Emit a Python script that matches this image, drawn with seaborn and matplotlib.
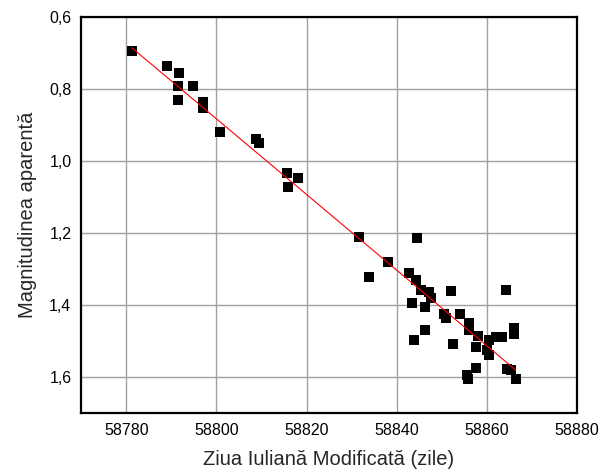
import numpy as np
import pandas as pd
import matplotlib
matplotlib.use("Agg")
import matplotlib.pyplot as plt
import seaborn as sns
from matplotlib.ticker import MultipleLocator, FuncFormatter

# data
mjd = [58781.2, 58789.1, 58791.7, 58791.4, 58794.8, 58791.4, 58797.1, 58797.1,
       58800.8, 58808.9, 58809.4, 58815.6, 58818.2, 58816.0,
       58831.6, 58844.5, 58838.0, 58833.9,
       58842.8, 58844.3, 58845.4, 58847.2, 58847.6, 58852.0, 58864.2,
       58843.5, 58846.2, 58850.4, 58850.9, 58854.1, 58856.1, 58856.1,
       58846.2, 58858.1, 58866.0, 58866.0, 58843.9, 58852.6, 58857.5,
       58860.5, 58862.0, 58863.4, 58860.1, 58860.5, 58857.7, 58855.7,
       58855.8, 58864.5, 58865.3, 58866.4]
mag = [0.696, 0.736, 0.755, 0.791, 0.791, 0.832, 0.835, 0.852,
       0.919, 0.940, 0.949, 1.032, 1.048, 1.071,
       1.212, 1.215, 1.280, 1.321,
       1.312, 1.331, 1.358, 1.363, 1.380, 1.360, 1.357,
       1.395, 1.405, 1.426, 1.437, 1.425, 1.451, 1.469,
       1.469, 1.485, 1.465, 1.479, 1.497, 1.508, 1.516,
       1.497, 1.490, 1.490, 1.525, 1.539, 1.576, 1.594,
       1.606, 1.578, 1.581, 1.604]

df = pd.DataFrame({"mjd": mjd, "mag": mag})

sns.set_style("white")
plt.rcParams["font.family"] = ["Liberation Sans", "DejaVu Sans"]

fig = plt.figure(figsize=(6.01, 4.70), dpi=100)
ax = fig.add_axes([0.135, 0.121, 0.825, 0.843])

ax.grid(True, which="major", color="#a0a0a0", linewidth=1.0)
ax.set_axisbelow(True)

sns.regplot(data=df, x="mjd", y="mag", ax=ax, ci=None, marker="s",
            scatter_kws={"s": 48, "color": "black", "linewidths": 0, "alpha": 1},
            line_kws={"color": "red", "linewidth": 0.8})

ax.set_xlim(58770, 58880)
ax.set_ylim(1.7, 0.6)
ax.xaxis.set_major_locator(MultipleLocator(20))
ax.xaxis.set_minor_locator(MultipleLocator(10))
ax.yaxis.set_major_locator(MultipleLocator(0.2))
ax.yaxis.set_minor_locator(MultipleLocator(0.1))
ax.yaxis.set_major_formatter(FuncFormatter(lambda v, p: f"{v:.1f}".replace(".", ",")))
ax.xaxis.set_major_formatter(FuncFormatter(lambda v, p: f"{v:.0f}"))

ax.tick_params(which="both", direction="in", top=False, right=False,
               labelsize=11.5, width=1.4, colors="black")
ax.tick_params(which="major", length=6, pad=7)
ax.tick_params(which="minor", length=3)
for s in ax.spines.values():
    s.set_linewidth(1.6)
    s.set_color("black")

ax.set_xlabel("Ziua Iuliană Modificată (zile)", fontsize=14.5, labelpad=9)
ax.set_ylabel("Magnitudinea aparentă", fontsize=14.5, labelpad=9)

fig.savefig("out.png", dpi=100)
